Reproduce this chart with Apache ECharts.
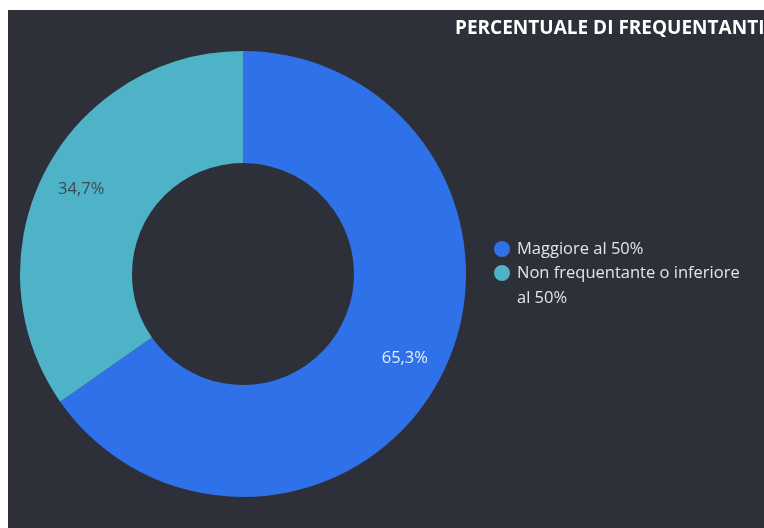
<!DOCTYPE html>
<html>
<head>
<meta charset="utf-8">
<script src="https://cdn.jsdelivr.net/npm/echarts@6/dist/echarts.min.js"></script>
<style>
  html, body { margin: 0; padding: 0; background: #ffffff; }
  #chart { position: absolute; left: 8px; top: 10px; width: 756px; height: 518px; background: #2d3038; }
</style>
</head>
<body>
<div id="chart"></div>
<script>
const categories = ['Maggiore al 50%', 'Non frequentante o inferiore al 50%'];
const values = [65.3, 34.7];
const colors = ['#2f71e8', '#4fb3c7'];
const labelColors = ['#e6ecf8', '#3b4a55'];

const chart = echarts.init(document.getElementById('chart'));

const pieData = categories.map((name, i) => ({
  name: name,
  value: values[i],
  itemStyle: { color: colors[i] }
}));

const fmt = (p) => p.value.toFixed(1).replace('.', ',') + '%';

// dot on the first line of a wrapped legend entry
const topDot = 'path://M0,8A8,8,0,1,1,16,8A8,8,0,1,1,0,8ZM8,40.9L8,41';

const options = {
  backgroundColor: '#2d3038',
  title: {
    text: 'PERCENTUALE DI FREQUENTANTI',
    left: 447,
    top: 9,
    padding: 0,
    textStyle: {
      color: '#ffffff',
      fontFamily: 'Open Sans',
      fontWeight: 'bold',
      fontSize: 19
    }
  },
  legend: {
    orient: 'vertical',
    left: 486,
    top: 226.5,
    padding: 0,
    itemWidth: 16,
    itemHeight: 41,
    itemGap: -1,
    data: [
      { name: categories[0], icon: 'circle' },
      { name: categories[1], icon: topDot }
    ],
    textStyle: {
      color: '#e4e4e4',
      fontFamily: 'Open Sans',
      fontSize: 16.5,
      width: 230,
      overflow: 'break',
      lineHeight: 25,
      padding: [0, 0, 0, 2]
    }
  },
  series: [
    {
      name: 'Frequentanti',
      type: 'pie',
      center: [235, 264],
      radius: [111, 223],
      startAngle: 90,
      clockwise: true,
      avoidLabelOverlap: false,
      label: { show: false },
      labelLine: { show: false },
      emphasis: { disabled: true },
      itemStyle: { borderWidth: 0 },
      data: pieData
    },
    {
      // same slices, transparent, only to place the percent labels
      name: 'Etichette',
      type: 'pie',
      center: [235, 264],
      radius: [136, 223],
      startAngle: 90,
      clockwise: true,
      silent: true,
      legendHoverLink: false,
      label: {
        show: true,
        position: 'inside',
        formatter: fmt,
        fontFamily: 'Open Sans',
        fontSize: 16.5,
        color: 'inherit'
      },
      labelLine: { show: false },
      itemStyle: { color: 'transparent', borderWidth: 0 },
      data: categories.map((name, i) => ({
        name: name + ' ',
        value: values[i],
        label: { color: labelColors[i] }
      }))
    }
  ]
};

chart.setOption(options);
</script>
</body>
</html>
